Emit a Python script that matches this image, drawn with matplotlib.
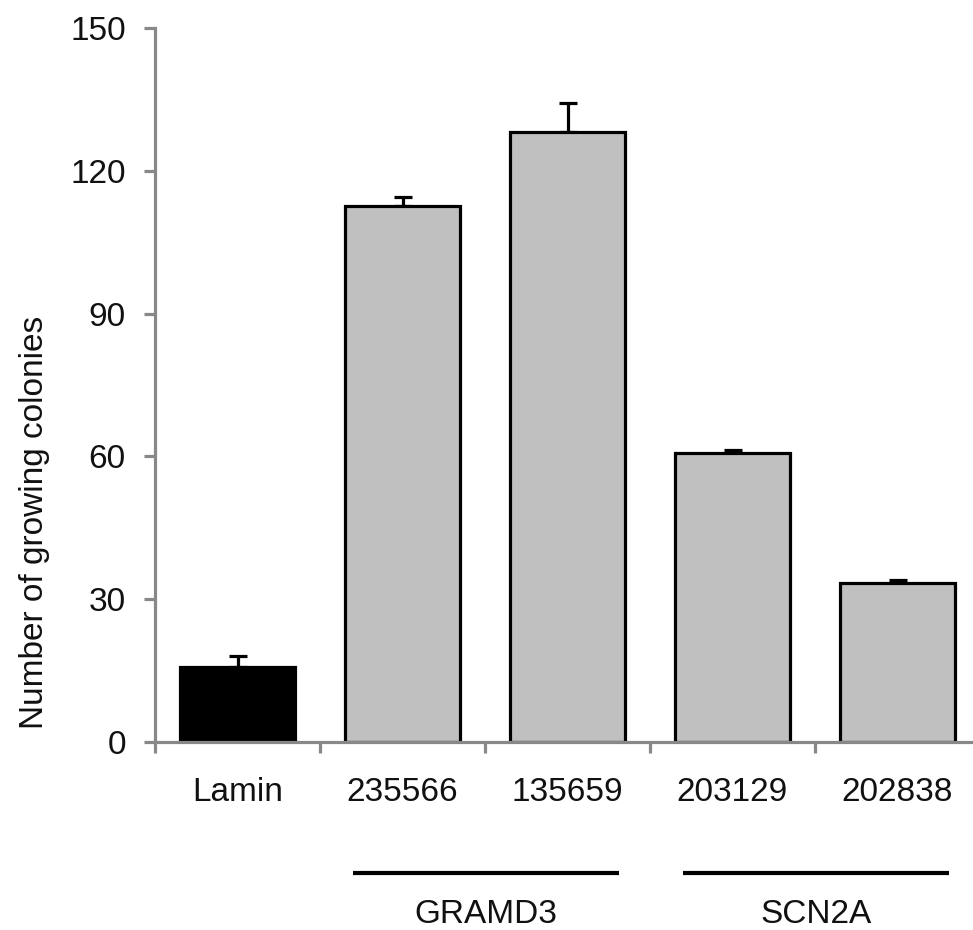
import numpy as np
import matplotlib
matplotlib.use("Agg")
import matplotlib.pyplot as plt

plt.rcParams['font.family'] = ['Liberation Sans', 'DejaVu Sans']

# values
labels = ["Lamin", "235566", "135659", "203129", "202838"]
colonies = [15.8, 112.7, 128.1, 60.8, 33.5]
errors = [2.3, 1.9, 6.1, 0.5, 0.6]
colors = ["black", "#c0c0c0", "#c0c0c0", "#c0c0c0", "#c0c0c0"]
groups = ["GRAMD3", "SCN2A"]
group_members = [[1, 2], [3, 4]]

W, H = 973, 930
fig = plt.figure(figsize=(W / 100, H / 100), dpi=100)
ax = fig.add_axes([155 / W, 1 - 742 / H, 825 / W, 714 / H])

x = np.arange(len(labels))
ax.bar(x, colonies, width=0.7, color=colors, edgecolor="black", linewidth=2.3, zorder=2)
ax.errorbar(x, colonies, yerr=[np.zeros(len(errors)), errors], fmt="none",
            ecolor="black", elinewidth=2.3, capsize=6.5, capthick=2.3, zorder=1)

ax.set_xlim(-0.5, len(labels) - 0.5)
ax.set_ylim(0, 150)
ax.set_yticks(np.arange(0, 151, 30))

axis_grey = "#888888"
for side in ["top", "right"]:
    ax.spines[side].set_visible(False)
for side in ["left", "bottom"]:
    ax.spines[side].set_color(axis_grey)
    ax.spines[side].set_linewidth(2.3)

fs = 24
ax.tick_params(axis="y", direction="out", length=8, width=2.3, color=axis_grey,
               labelsize=fs, labelcolor="#111111", pad=13)
ax.set_xticks(x)
ax.set_xticklabels(labels)
ax.set_xticks(np.arange(-0.5, len(labels), 1.0), minor=True)
ax.tick_params(axis="x", which="major", length=0, labelsize=fs, labelcolor="#111111", pad=25)
ax.tick_params(axis="x", which="minor", direction="out", length=8, width=2.3, color=axis_grey)

ax.set_ylabel("Number of growing colonies", fontsize=fs, color="#111111")
ax.yaxis.set_label_coords(-0.127, 0.307)

# group brackets under the x labels
for name, members in zip(groups, group_members):
    x0 = members[0] - 0.3
    x1 = members[-1] + 0.31
    ax.plot([x0, x1], [-0.1835, -0.1835], color="black", linewidth=3,
            transform=ax.get_xaxis_transform(), clip_on=False, solid_capstyle="butt")
    ax.text((x0 + x1) / 2, -0.241, name, ha="center", va="center", fontsize=fs,
            color="#111111", transform=ax.get_xaxis_transform())

fig.savefig("out.png", dpi=100)
